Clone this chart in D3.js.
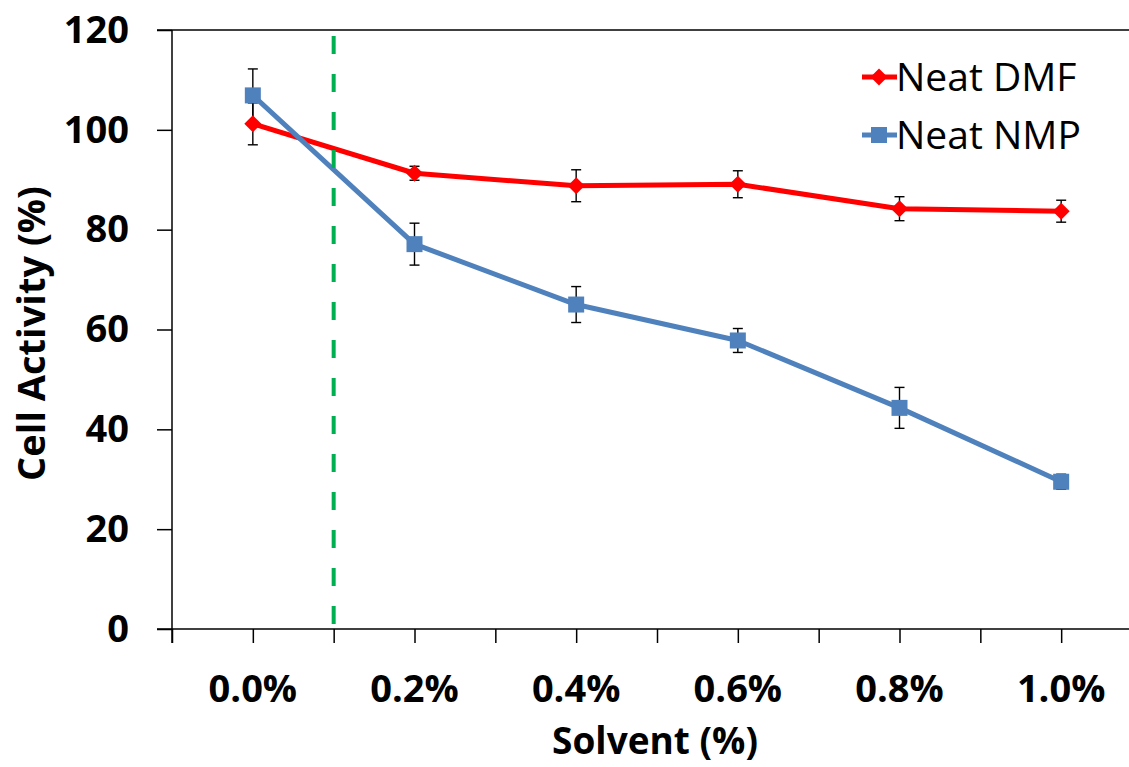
<!DOCTYPE html>
<html>
<head>
<meta charset="utf-8">
<script src="https://cdn.jsdelivr.net/npm/d3@7"></script>
<style>
  html, body { margin: 0; padding: 0; background: #fff; }
  svg { display: block; }
  text { font-family: "Open Sans", "Noto Sans", sans-serif; }
</style>
</head>
<body>
<svg id="chart" width="1129" height="767"></svg>
<script>
// ---- data ----
const categories = [0.0, 0.2, 0.4, 0.6, 0.8, 1.0];
const xLabels = ["0.0%", "0.2%", "0.4%", "0.6%", "0.8%", "1.0%"];
const dmfValues = [101.2, 91.3, 88.8, 89.1, 84.2, 83.7];
const dmfErrors = [4.2, 1.4, 3.2, 2.7, 2.4, 2.2];
const nmpValues = [106.9, 77.1, 65.0, 57.8, 44.3, 29.5];
const nmpErrors = [5.3, 4.2, 3.6, 2.4, 4.1, 1.5];
const yTicks = [0, 20, 40, 60, 80, 100, 120];
const markerLine = 0.1;   // dashed vertical reference at 0.1%
const seriesNames = ["Neat DMF", "Neat NMP"];

// ---- layout ----
const W = 1129, H = 767;
const plot = { left: 172, right: 1142, top: 30, bottom: 629 };
const svg = d3.select("#chart");

const x = d3.scaleLinear().domain([-0.1, 1.1]).range([plot.left, plot.right]);
const y = d3.scaleLinear().domain([0, 120]).range([plot.bottom, plot.top]);

const red = "#FF0000", blue = "#4F81BD", green = "#00B050";

// top border line
svg.append("line")
  .attr("x1", plot.left - 15).attr("x2", W)
  .attr("y1", y(120)).attr("y2", y(120))
  .attr("stroke", "#000").attr("stroke-width", 1.5);

// y axis
const yAxis = svg.append("g")
  .attr("transform", `translate(${plot.left},0)`)
  .call(d3.axisLeft(y).tickValues(yTicks).tickSize(15).tickPadding(28));
yAxis.select(".domain").remove();
yAxis.selectAll(".tick line").attr("stroke", "#000").attr("stroke-width", 1.5);
yAxis.selectAll(".tick text")
  .attr("font-size", 38).attr("font-weight", "bold").attr("fill", "#000")
  .attr("font-family", "'Open Sans', sans-serif");
svg.append("line")
  .attr("x1", plot.left).attr("x2", plot.left)
  .attr("y1", y(120)).attr("y2", y(0) + 14)
  .attr("stroke", "#000").attr("stroke-width", 1.5);

// x axis
const xTickVals = d3.range(-1, 12).map(i => i / 10);
const xAxis = svg.append("g")
  .attr("transform", `translate(0,${y(0)})`)
  .call(d3.axisBottom(x).tickValues(xTickVals).tickSize(14).tickFormat(""));
xAxis.select(".domain").remove();
xAxis.selectAll(".tick line").attr("stroke", "#000").attr("stroke-width", 1.5);
svg.append("line")
  .attr("x1", plot.left - 15).attr("x2", W)
  .attr("y1", y(0)).attr("y2", y(0))
  .attr("stroke", "#000").attr("stroke-width", 1.5);

svg.append("g").selectAll("text")
  .data(categories)
  .join("text")
  .attr("x", d => x(d))
  .attr("y", y(0) + 73)
  .attr("text-anchor", "middle")
  .attr("font-size", 38).attr("font-weight", "bold").attr("fill", "#000")
  .text((d, i) => xLabels[i]);

// axis titles
svg.append("text")
  .attr("x", (plot.left + plot.right) / 2 - 2)
  .attr("y", 754)
  .attr("text-anchor", "middle")
  .attr("font-size", 37).attr("font-weight", "bold").attr("fill", "#000")
  .text("Solvent (%)");

svg.append("text")
  .attr("transform", `translate(45,${(plot.top + plot.bottom) / 2 + 4}) rotate(-90)`)
  .attr("text-anchor", "middle")
  .attr("font-size", 38).attr("font-weight", "bold").attr("fill", "#000")
  .text("Cell Activity (%)");

// series
const series = [
  { name: seriesNames[0], values: dmfValues, errors: dmfErrors, color: red, shape: "diamond" },
  { name: seriesNames[1], values: nmpValues, errors: nmpErrors, color: blue, shape: "square" }
];

const line = d3.line().x(d => x(d.c)).y(d => y(d.v));

series.forEach(s => {
  const pts = categories.map((c, i) => ({ c, v: s.values[i], e: s.errors[i] }));
  svg.append("path")
    .datum(pts)
    .attr("d", line)
    .attr("fill", "none")
    .attr("stroke", s.color)
    .attr("stroke-width", 5)
    .attr("stroke-linejoin", "round");
  s.pts = pts;
});

// error bars
series.forEach(s => {
  const g = svg.append("g");
  s.pts.forEach(p => {
    const cx = x(p.c);
    g.append("line").attr("x1", cx).attr("x2", cx)
      .attr("y1", y(p.v + p.e)).attr("y2", y(p.v - p.e))
      .attr("stroke", "#000").attr("stroke-width", 1.4);
    [p.v + p.e, p.v - p.e].forEach(v => {
      g.append("line").attr("x1", cx - 5).attr("x2", cx + 5)
        .attr("y1", y(v)).attr("y2", y(v))
        .attr("stroke", "#000").attr("stroke-width", 1.4);
    });
  });
});

// markers
function drawMarker(g, shape, cx, cy, color) {
  if (shape === "square") {
    g.append("rect").attr("x", cx - 8).attr("y", cy - 8)
      .attr("width", 16).attr("height", 16).attr("fill", color);
  } else {
    g.append("path").attr("d", "M0,-8.5L8.5,0L0,8.5L-8.5,0Z")
      .attr("transform", `translate(${cx},${cy})`).attr("fill", color);
  }
}
series.forEach(s => {
  const g = svg.append("g");
  s.pts.forEach(p => drawMarker(g, s.shape, x(p.c), y(p.v), s.color));
});

// dashed reference line
svg.append("line")
  .attr("x1", x(markerLine)).attr("x2", x(markerLine))
  .attr("y1", y(120) + 6).attr("y2", y(0))
  .attr("stroke", green).attr("stroke-width", 4)
  .attr("stroke-dasharray", "18,20");

// legend
const legendY = [77, 135];
series.forEach((s, i) => {
  const g = svg.append("g");
  g.append("line").attr("x1", 862).attr("x2", 897)
    .attr("y1", legendY[i]).attr("y2", legendY[i])
    .attr("stroke", s.color).attr("stroke-width", 5);
  drawMarker(g, s.shape, 879, legendY[i], s.color);
  g.append("text").attr("x", 896).attr("y", legendY[i] + 14)
    .attr("font-size", 39).attr("fill", "#000")
    .text(s.name);
});
</script>
</body>
</html>
